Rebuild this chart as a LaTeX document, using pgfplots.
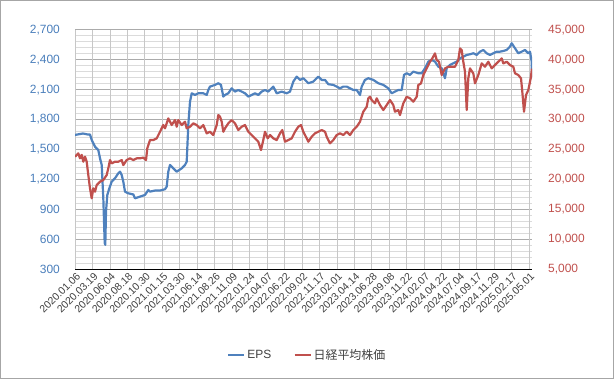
\documentclass[border=0pt]{standalone}
\usepackage{pgfplots}
\pgfplotsset{compat=1.18}
\usepackage{fontspec}
\setmainfont{Liberation Sans}
\newfontfamily\jp{Noto Sans CJK JP}
\definecolor{epsblue}{HTML}{4F81BD}
\definecolor{nkred}{HTML}{C0504D}
\definecolor{lblblue}{HTML}{4A7EBB}
\definecolor{txtgray}{HTML}{404040}
\begin{document}
\begin{tikzpicture}
\useasboundingbox (0,0) rectangle (615bp,380bp);
\draw[black!35, line width=1bp] (0.5bp,1.5bp) rectangle (613.5bp,379.5bp);
\pgfplotsset{
  common/.style={
    scale only axis, width=457bp, height=239.6bp,
    at={(75bp,110.7bp)}, anchor=south west,
    xmin=75, xmax=532,
    major tick length=0pt, minor tick length=0pt,
    scaled ticks=false,
    /pgf/number format/assume math mode=true,
    /pgf/number format/1000 sep={,},
    tick label style={font=\fontsize{12}{14}\selectfont},
  }
}
\begin{axis}[common,
  ymin=300, ymax=2700, ytick={300,600,...,2700},
  minor y tick num=4,
  ymajorgrids, yminorgrids,
  major grid style={draw=black!33, line width=0.8bp},
  minor grid style={draw=black!14, line width=0.8bp},
  axis x line*=bottom, axis y line*=left,
  y axis line style={draw=none},
  x axis line style={draw=black, line width=1.2bp},
  xtick={75,92.46,109.92,127.38,144.85,162.31,179.77,197.23,214.69,232.15,249.62,267.08,284.54,302.0,319.46,336.92,354.38,371.85,389.31,406.77,424.23,441.69,459.15,476.62,494.08,511.54,529.0},
  xticklabels={2020.01.06,2020.03.19,2020.06.04,2020.08.18,2020.10.30,2021.01.15,2021.03.30,2021.06.14,2021.08.26,2021.11.09,2022.01.24,2022.04.07,2022.06.22,2022.09.02,2022.11.17,2023.02.01,2023.04.14,2023.06.28,2023.09.08,2023.11.22,2024.02.07,2024.04.22,2024.07.04,2024.09.17,2024.11.29,2025.02.17,2025.05.01},
  xticklabel style={rotate=45, anchor=east, text=txtgray, inner sep=1bp, yshift=-6bp, font=\fontsize{10.5}{12}\selectfont},
  yticklabel style={text=lblblue, inner sep=0pt, xshift=-15bp},
  extra x ticks={75,92.46,109.92,127.38,144.85,162.31,179.77,197.23,214.69,232.15,249.62,267.08,284.54,302.0,319.46,336.92,354.38,371.85,389.31,406.77,424.23,441.69,459.15,476.62,494.08,511.54,529.0},
  extra x tick labels={},
  extra x tick style={grid=major, major grid style={draw=black!22, line width=0.8bp}},
]
\addplot[epsblue, line width=2.2bp, line join=round] coordinates {
(75,1646)(80,1655)(83,1660)(88,1650)(90,1650)(91.7,1596)(95,1528)(98.3,1495)(100,1412)(101.7,1345)
(103.3,1014)(104.7,563)(105.3,545)(106,877)(107.3,1044)(109.3,1111)(111.7,1178)(115,1212)(118.3,1262)(120,1278)
(121.7,1245)(123.3,1178)(125,1078)(128.3,1061)(133.3,1050)(135,1011)(140,1028)(145,1045)(148.3,1095)(150,1078)
(155,1089)(160,1089)(165,1102)(166.7,1128)(168.3,1278)(170,1345)(173.3,1311)(176.7,1278)(181.7,1311)(185,1345)
(186.7,1378)(188.3,1746)(190,1979)(191.7,2063)(195,2046)(198.3,2063)(203.3,2063)(206.7,2046)(208.3,2096)(210,2130)
(215,2147)(218.3,2164)(221,2147)(223.3,2030)(225,2046)(228.3,2063)(231.7,2113)(235,2080)(238.3,2096)(241.7,2080)
(245,2063)(248.3,2030)(251.7,2046)(255,2063)(258.3,2046)(261.7,2080)(265,2096)(268.3,2080)(273.3,2130)(276.7,2063)
(281.7,2080)(286.7,2063)(290,2080)(293.3,2180)(296.7,2230)(300,2197)(303.3,2214)(305,2197)(308.3,2164)(313.3,2180)
(318.3,2230)(321.7,2197)(325,2197)(328.3,2154)(333.3,2147)(336.7,2130)(340,2113)(343.3,2130)(346.7,2130)(350,2113)
(353.3,2096)(356.7,2096)(360,2046)(361.7,2130)(365,2197)(368.3,2214)(373.3,2197)(378.3,2164)(383.3,2147)(388.3,2113)
(391.7,2063)(395,2080)(398.3,2096)(401.7,2096)(404,2247)(406.7,2264)(410,2247)(413.3,2280)(418.3,2264)(421.7,2264)
(425,2314)(428.3,2380)(431.7,2397)(435,2380)(438.3,2330)(441.7,2314)(445,2214)(446.7,2314)(450,2347)(453.3,2364)
(456.7,2380)(460,2414)(463.3,2430)(466.7,2447)(470,2454)(473.3,2464)(476.7,2447)(480,2480)(483.3,2497)(486.7,2464)
(490,2447)(493.3,2464)(496.7,2480)(500,2480)(503.3,2487)(506.7,2497)(510,2530)(511.7,2564)(515,2514)(518.3,2464)
(521.7,2480)(525,2497)(528.3,2464)(530,2480)(531.7,2380)(532,2214)
};
\end{axis}
\begin{axis}[common,
  ymin=5000, ymax=45000, ytick={5000,10000,...,45000},
  axis y line*=right, axis x line=none,
  y axis line style={draw=none},
  yticklabel style={text=nkred, inner sep=0pt, xshift=16bp},
  legend style={at={(0.508,-0.358)}, anchor=center, draw=none, fill=none,
    font=\fontsize{12}{14}\selectfont, text=txtgray,
    /tikz/every even column/.append style={column sep=20bp}},
  legend columns=2,
  legend image code/.code={\draw[#1] (0bp,0bp) -- (16bp,0bp);},
]
\addlegendimage{epsblue, line width=2.5bp}
\addlegendentry{EPS}
\addplot[nkred, line width=2.2bp, line join=round] coordinates {
(75,23793)(78.3,24360)(80,23526)(81.7,24100)(83.3,22960)(85,23800)(86.7,22960)(88.3,20738)(90,18519)(91.7,16850)
(93.3,18519)(95,17952)(96.7,19070)(100,19620)(103.3,19900)(106.7,20740)(108.3,21857)(110,23240)(111.7,22680)(115,22960)
(118.3,22960)(121.7,23240)(123.3,22400)(126.7,23240)(130,23526)(133.3,23240)(136.7,23526)(140,23526)(143.3,23640)(146,23240)
(147.3,25195)(150,26580)(153.3,26580)(156.7,26864)(160,27965)(163.3,29084)(165,28530)(168.3,30200)(170,29640)(171.7,29084)
(175,29917)(176.7,28800)(178.3,29917)(181.7,29084)(185,29634)(186.7,28532)(190,28800)(193.3,29368)(196.7,29084)(200,28532)
(203.3,29084)(206.7,27700)(210,27965)(213.3,27415)(216.7,29084)(218.3,30752)(220,30470)(221.7,29634)(223.3,27965)(225,28532)
(228.3,29368)(231.7,29917)(235,29368)(238.3,28250)(241.7,28800)(245,29084)(248.3,27965)(251.7,27415)(255,26864)(258.3,26300)
(261,24910)(263.3,26580)(265,27965)(267.7,26864)(270,27415)(273.3,26864)(276.7,26580)(280,27700)(282.3,28250)(285,26300)
(288.3,26580)(291.7,26864)(295,27965)(298.3,28800)(301,29084)(303.3,27965)(306.7,26864)(308.3,26300)(311.7,27130)(315,27700)
(318.3,27965)(321.7,28250)(325,27965)(326.7,27130)(330,26030)(333.3,26580)(336.7,27415)(340,27700)(343.3,27415)(346.7,27965)
(350,27415)(353.3,28250)(356.7,28800)(360,29634)(363.3,31303)(366.7,32137)(368.3,33540)(370,33810)(371.7,33255)(375,32700)
(376.7,33540)(380,32420)(383.3,31590)(386.7,32420)(390,33255)(393.3,32420)(395,31303)(398.3,31590)(400,30752)(403.3,32700)
(406.7,33810)(410,33540)(413.3,32980)(416.7,33810)(418.3,35760)(421,36040)(423.3,37430)(426.7,38545)(430,39650)(432.3,40215)
(435,41050)(436.7,39930)(439,39650)(441.7,37430)(445,38545)(448.3,38820)(451.7,38820)(455,38820)(458.3,39930)(460,41880)
(461.7,41600)(463.3,39650)(465,37980)(466.7,31590)(468.3,36880)(470,38545)(473.3,37700)(475,36040)(478.3,37430)(481.7,39380)
(485,38820)(488.3,39650)(491.7,38545)(495,39100)(498.3,39650)(501.7,40215)(503.3,39380)(506.7,39650)(510,39100)(513.3,38820)
(515,37720)(518.3,37430)(521,36880)(522.3,34640)(524,31300)(526,34090)(528.3,34920)(530.7,36880)(532,38500)
};
\addlegendentry{{\jp 日経平均株価}}
\end{axis}
\end{tikzpicture}
\end{document}
